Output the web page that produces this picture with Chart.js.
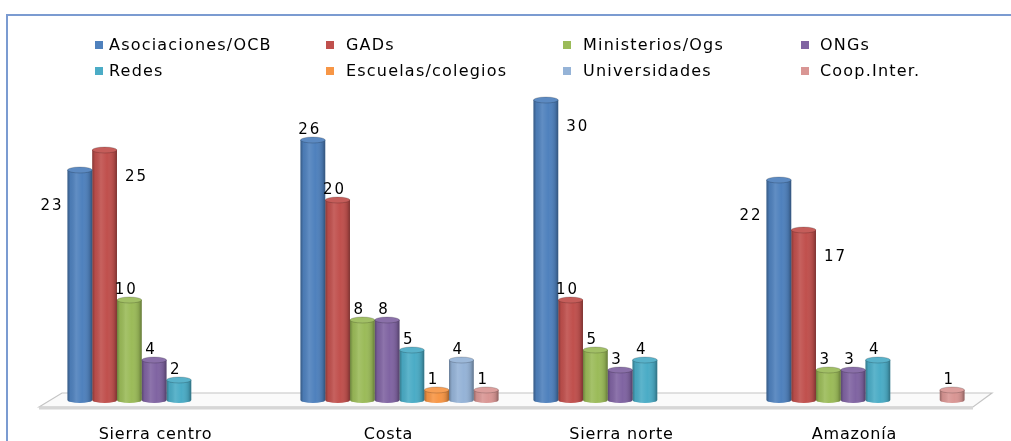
<!DOCTYPE html>
<html>
<head>
<meta charset="utf-8">
<script src="https://cdn.jsdelivr.net/npm/chart.js@4.4.1/dist/chart.umd.min.js"></script>
<style>
  html, body { margin: 0; padding: 0; background: #fff; overflow: hidden; }
  canvas { display: block; }
</style>
</head>
<body>
<canvas id="chart" width="1011" height="441"></canvas>
<script>
// categories and series values
const categories = ["Sierra centro", "Costa", "Sierra norte", "Amazonía"];
const asociaciones = [23, 26, 30, 22];
const gads = [25, 20, 10, 17];
const ministerios = [10, 8, 5, 3];
const ongs = [4, 8, 3, 3];
const redes = [2, 5, 4, 4];
const escuelas = [0, 1, 0, 0];
const universidades = [0, 4, 0, 0];
const coopInter = [0, 1, 0, 1];

const seriesNames = ["Asociaciones/OCB", "GADs", "Ministerios/Ogs", "ONGs",
                     "Redes", "Escuelas/colegios", "Universidades", "Coop.Inter."];
const seriesValues = [asociaciones, gads, ministerios, ongs, redes, escuelas, universidades, coopInter];
const seriesColors = ["#4f81bd", "#c0504d", "#9bbb59", "#8064a2",
                      "#4bacc6", "#f79646", "#95b3d7", "#d99694"];

// labels that sit beside the bar instead of on top  (category,series)
const sideLabels = { "0,0": "left", "0,1": "right", "2,0": "right", "3,0": "left", "3,1": "right" };

Chart.defaults.font.family = "'DejaVu Sans', Verdana, sans-serif";

// ----- outer frame + 3D floor behind the bars -----
const floorPlugin = {
  id: "floor",
  beforeDraw(chart) {
    const ctx = chart.ctx;
    ctx.letterSpacing = "0.8px";
    ctx.save();
    ctx.strokeStyle = "#7b9bd1";
    ctx.lineWidth = 2;
    ctx.beginPath();
    ctx.moveTo(7, chart.height);
    ctx.lineTo(7, 15);
    ctx.lineTo(chart.width, 15);
    ctx.stroke();
    ctx.restore();
  },
  beforeDatasetsDraw(chart) {
    const ctx = chart.ctx;
    const y0 = chart.scales.y.getPixelForValue(0);
    const { left, right } = chart.chartArea;
    ctx.save();
    ctx.beginPath();
    ctx.moveTo(left - 11, y0 + 7);
    ctx.lineTo(left + 12, y0 - 7);
    ctx.lineTo(right + 10, y0 - 7);
    ctx.lineTo(right - 9, y0 + 7);
    ctx.closePath();
    ctx.fillStyle = "#fafafa";
    ctx.fill();
    ctx.strokeStyle = "#c4c4c4";
    ctx.lineWidth = 1.2;
    ctx.stroke();
    ctx.beginPath();
    ctx.moveTo(left - 11, y0 + 8);
    ctx.lineTo(right - 9, y0 + 8);
    ctx.strokeStyle = "#d6d6d6";
    ctx.lineWidth = 3;
    ctx.stroke();
    ctx.restore();
  }
};

// ----- cylinder shading + value labels -----
const cylinderPlugin = {
  id: "cylinder",
  afterDatasetsDraw(chart) {
    const ctx = chart.ctx;
    ctx.save();
    chart.data.datasets.forEach((ds, i) => {
      const meta = chart.getDatasetMeta(i);
      meta.data.forEach((bar, j) => {
        if (!ds.data[j]) return;
        const { x, y, base, width } = bar;
        const l = x - width / 2;
        const g = ctx.createLinearGradient(l, 0, l + width, 0);
        g.addColorStop(0, "rgba(0,0,0,0.30)");
        g.addColorStop(0.12, "rgba(0,0,0,0.05)");
        g.addColorStop(0.35, "rgba(255,255,255,0.10)");
        g.addColorStop(0.6, "rgba(255,255,255,0)");
        g.addColorStop(0.88, "rgba(0,0,0,0.12)");
        g.addColorStop(1, "rgba(0,0,0,0.35)");
        // bottom rim
        ctx.beginPath();
        ctx.ellipse(x, base, width / 2, 3, 0, 0, Math.PI);
        ctx.fillStyle = ds.backgroundColor;
        ctx.fill();
        ctx.beginPath();
        ctx.rect(l, y, width, base - y);
        ctx.ellipse(x, base, width / 2, 3, 0, 0, Math.PI);
        ctx.fillStyle = g;
        ctx.fill();
        // top cap
        ctx.beginPath();
        ctx.ellipse(x, y, width / 2, 3, 0, 0, Math.PI * 2);
        ctx.fillStyle = ds.backgroundColor;
        ctx.fill();
        ctx.fillStyle = "rgba(255,255,255,0.08)";
        ctx.fill();
        ctx.strokeStyle = "rgba(0,0,0,0.18)";
        ctx.lineWidth = 1;
        ctx.stroke();
      });
    });

    ctx.font = "15px 'DejaVu Sans', Verdana, sans-serif";
    ctx.letterSpacing = "2px";
    ctx.fillStyle = "#000";
    ctx.textBaseline = "middle";
    chart.data.datasets.forEach((ds, i) => {
      const meta = chart.getDatasetMeta(i);
      meta.data.forEach((bar, j) => {
        const v = ds.data[j];
        if (!v) return;
        const side = sideLabels[j + "," + i];
        if (side === "left") {
          ctx.textAlign = "right";
          ctx.fillText(String(v), bar.x - bar.width / 2 - 4, bar.y + 36);
        } else if (side === "right") {
          ctx.textAlign = "left";
          ctx.fillText(String(v), bar.x + bar.width / 2 + 8, bar.y + 27);
        } else {
          ctx.textAlign = "center";
          ctx.fillText(String(v), bar.x - 3, bar.y - 10);
        }
      });
    });
    ctx.restore();
  }
};

// ----- legend in two rows of four columns -----
const legendPlugin = {
  id: "gridLegend",
  afterDraw(chart) {
    const ctx = chart.ctx;
    const boxX = [95, 326, 563, 801];
    const textX = [109, 346, 583, 820];
    const rowY = [45, 71];
    ctx.save();
    ctx.font = "16px 'DejaVu Sans', Verdana, sans-serif";
    ctx.letterSpacing = "1.2px";
    ctx.textBaseline = "middle";
    ctx.textAlign = "left";
    chart.data.datasets.forEach((ds, i) => {
      const col = i % 4, row = Math.floor(i / 4);
      ctx.fillStyle = ds.backgroundColor;
      ctx.fillRect(boxX[col], rowY[row] - 4, 8, 8);
      ctx.fillStyle = "#000";
      ctx.fillText(ds.label, textX[col], rowY[row] + 1);
    });
    ctx.restore();
  }
};

new Chart(document.getElementById("chart"), {
  type: "bar",
  data: {
    labels: categories,
    datasets: seriesNames.map((name, i) => ({
      label: name,
      data: seriesValues[i],
      backgroundColor: seriesColors[i],
      borderWidth: 0,
      barPercentage: 1.0,
      categoryPercentage: 0.85
    }))
  },
  options: {
    responsive: false,
    devicePixelRatio: 1,
    animation: false,
    layout: { padding: { top: 80, left: 50, right: 29, bottom: 0 } },
    plugins: { legend: { display: false }, tooltip: { enabled: false } },
    scales: {
      x: {
        grid: { display: false, drawTicks: false },
        border: { display: false },
        ticks: { color: "#000", font: { size: 16 }, padding: 25, labelOffset: -11 },
        afterFit(scale) { scale.height = 41; }
      },
      y: { display: false, min: 0, max: 32 }
    }
  },
  plugins: [floorPlugin, cylinderPlugin, legendPlugin]
});
</script>
</body>
</html>
